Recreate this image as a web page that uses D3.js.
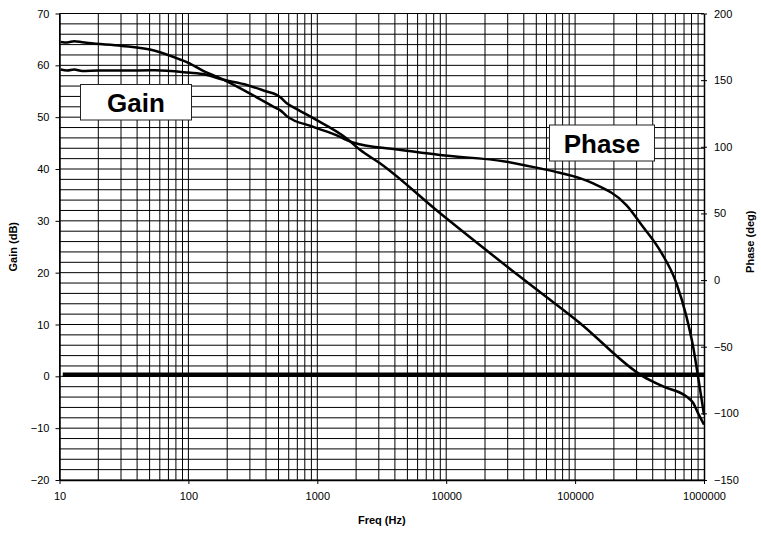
<!DOCTYPE html>
<html>
<head>
<meta charset="utf-8">
<script src="https://cdn.jsdelivr.net/npm/d3@7"></script>
<style>
  body { margin: 0; background: #fff; }
  text { font-family: "Liberation Sans", Arial, sans-serif; }
</style>
</head>
<body>
<div class="bode-container"></div>
<script>
// Gain curve: frequency (Hz) and gain (dB)
const gainFreq = [10.2, 11.5, 13, 15, 20, 30, 55, 100, 135, 181, 284, 400, 484, 514, 579, 700, 931, 1690, 2143, 3063, 8930, 37250, 108700, 336000, 481000, 731000, 823000, 899000, 1000000];
const gainDb   = [59.2, 59.0, 59.2, 58.9, 59.0, 59.0, 59.05, 58.6, 58.25, 57.3, 56.2, 55.0, 54.3, 53.9, 52.7, 51.5, 49.8, 45.9, 43.7, 41.1, 31.5, 19.25, 10.3, 0.0, -1.95, -3.9, -5.1, -7.1, -9.3];

// Phase curve: frequency (Hz) and phase (deg)
const phaseFreq = [10.2, 11.5, 13, 15, 16.8, 30.5, 55, 86, 100, 135, 171, 284, 484, 514, 579, 931, 1500, 1690, 2717, 3063, 8930, 29400, 53200, 76000, 108700, 138000, 250000, 336000, 453000, 611000, 731000, 823000, 899000, 1000000];
const phaseDeg  = [178.7, 178.3, 179.2, 178.4, 177.8, 175.7, 172, 165.5, 163, 156.2, 152, 141.2, 128.8, 127.5, 123, 115, 107.5, 105, 100, 99.5, 93.8, 88.8, 83.8, 80.5, 76.5, 72.5, 56.3, 40.0, 22.6, -2.4, -27.4, -49.9, -72.4, -101];

// reference line (dB)
const refFreq = [10.6, 1000000];
const refDb   = [0.3, 0.3];

// ticks
const gainTicks  = [-20, -10, 0, 10, 20, 30, 40, 50, 60, 70];
const phaseTicks = [-150, -100, -50, 0, 50, 100, 150, 200];
const freqTicks  = [10, 100, 1000, 10000, 100000, 1000000];

const makeBodePlot = (cls) => {
    const totalW = 761, totalH = 533;
    const margin = { top: 13.5, right: 57, bottom: 53, left: 59.5 };
    const width = totalW - margin.left - margin.right;
    const height = totalH - margin.top - margin.bottom;

    const svg = d3.select(`.${cls}`).append("svg")
        .attr("width", totalW)
        .attr("height", totalH);

    const g = svg.append("g")
        .attr("transform", `translate(${margin.left},${margin.top})`);

    const x = d3.scaleLog().domain([10, 1000000]).range([0, width]);
    const yGain = d3.scaleLinear().domain([-20, 70]).range([height, 0]);
    const yPhase = d3.scaleLinear().domain([-150, 200]).range([height, 0]);

    // vertical grid: 1..9 per decade
    const vGrid = [];
    for (let dec = 10; dec < 1000000; dec *= 10) {
        for (let k = 1; k <= 9; k++) vGrid.push(dec * k);
    }
    g.append("g").attr("class", "v-grid")
        .selectAll("line").data(vGrid).enter().append("line")
        .attr("x1", d => x(d)).attr("x2", d => x(d))
        .attr("y1", 0).attr("y2", height)
        .attr("stroke", "#000").attr("stroke-width", 1);

    // horizontal grid every 2 dB
    const hGrid = d3.range(-20, 71, 2);
    g.append("g").attr("class", "h-grid")
        .selectAll("line").data(hGrid).enter().append("line")
        .attr("x1", 0).attr("x2", width)
        .attr("y1", d => yGain(d)).attr("y2", d => yGain(d))
        .attr("stroke", "#000").attr("stroke-width", 1);

    // Axes
    const axisStyle = sel => {
        sel.selectAll("text").style("font-size", "11px").attr("fill", "#000")
            .style("font-family", "'Liberation Sans', Arial, sans-serif");
        sel.select(".domain").attr("stroke", "#000").attr("stroke-width", 1.5);
        sel.selectAll(".tick line").attr("stroke", "#000");
    };

    g.append("g").attr("class", "y-axis")
        .call(d3.axisLeft(yGain).tickValues(gainTicks).tickSize(4).tickSizeOuter(0).tickPadding(6))
        .call(axisStyle);

    const right = g.append("g").attr("class", "y2-axis")
        .attr("transform", `translate(${width},0)`)
        .call(d3.axisRight(yPhase).tickValues(phaseTicks).tickSize(3).tickSizeOuter(0).tickPadding(7))
        .call(axisStyle);
    right.selectAll(".tick line").attr("x1", -3);

    g.append("g").attr("class", "x-axis")
        .attr("transform", `translate(0,${height})`)
        .call(d3.axisBottom(x).tickValues(freqTicks).tickFormat(d3.format("d")).tickSize(4).tickSizeOuter(0).tickPadding(8))
        .call(axisStyle);

    // Curves
    const gainLine = d3.line().x(d => x(d[0])).y(d => yGain(d[1])).curve(d3.curveMonotoneX);
    const phaseLine = d3.line().x(d => x(d[0])).y(d => yPhase(d[1])).curve(d3.curveMonotoneX);

    g.append("path")
        .datum(refFreq.map((f, i) => [f, refDb[i]]))
        .attr("d", gainLine)
        .attr("fill", "none").attr("stroke", "#000").attr("stroke-width", 4.5);

    g.append("path")
        .datum(gainFreq.map((f, i) => [f, gainDb[i]]))
        .attr("d", gainLine)
        .attr("fill", "none").attr("stroke", "#000").attr("stroke-width", 2.5)
        .attr("stroke-linejoin", "round");

    g.append("path")
        .datum(phaseFreq.map((f, i) => [f, phaseDeg[i]]))
        .attr("d", phaseLine)
        .attr("fill", "none").attr("stroke", "#000").attr("stroke-width", 2.5)
        .attr("stroke-linejoin", "round");

    // Label boxes
    const labelBox = (bx, by, bw, bh, txt) => {
        svg.append("rect")
            .attr("x", bx).attr("y", by).attr("width", bw).attr("height", bh)
            .attr("fill", "#fff").attr("stroke", "#222").attr("stroke-width", 1);
        svg.append("text")
            .attr("x", bx + bw / 2).attr("y", by + bh / 2 + 9.5)
            .attr("text-anchor", "middle")
            .style("font-size", "26px").style("font-weight", "bold")
            .text(txt);
    };
    labelBox(80.5, 84.5, 111, 35.5, "Gain");
    labelBox(549.5, 125, 105, 36, "Phase");

    // Axis titles
    svg.append("text")
        .attr("transform", `translate(17,${margin.top + height / 2}) rotate(-90)`)
        .attr("text-anchor", "middle")
        .style("font-size", "11px").style("font-weight", "bold")
        .text("Gain (dB)");

    svg.append("text")
        .attr("transform", `translate(754,${margin.top + height / 2 - 5}) rotate(-90)`)
        .attr("text-anchor", "middle")
        .style("font-size", "11px").style("font-weight", "bold")
        .text("Phase (deg)");

    svg.append("text")
        .attr("x", margin.left + width / 2).attr("y", 524)
        .attr("text-anchor", "middle")
        .style("font-size", "11px").style("font-weight", "bold")
        .text("Freq (Hz)");
};

window.addEventListener("DOMContentLoaded", () => {
    makeBodePlot("bode-container");
});
</script>
</body>
</html>
